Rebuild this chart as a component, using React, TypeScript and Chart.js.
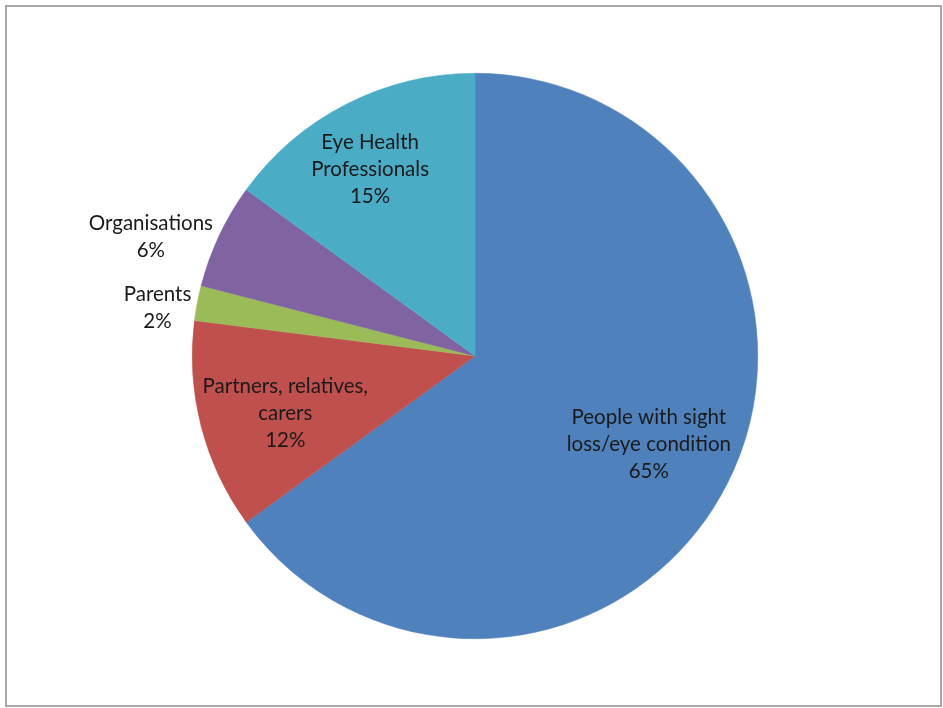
import React, { useEffect, useRef } from "react";
import { Chart, registerables } from "chart.js";

Chart.register(...registerables);

const categories = [
  "People with sight loss/eye condition",
  "Partners, relatives, carers",
  "Parents",
  "Organisations",
  "Eye Health Professionals",
];
const labelLines = [
  ["People with sight", "loss/eye condition", "65%"],
  ["Partners, relatives,", "carers", "12%"],
  ["Parents", "2%"],
  ["Organisations", "6%"],
  ["Eye Health", "Professionals", "15%"],
];
const values = [65, 12, 2, 6, 15];
const colors = ["#4F81BD", "#C0504D", "#9BBB59", "#8064A2", "#4BACC6"];

// label placement: radial factor of outer radius + pixel nudge
const labelPlace = [
  { f: 0.69, dx: 0, dy: 0 },
  { f: 0.7, dx: 2, dy: 8 },
  { f: 1.136, dx: -2, dy: 12 },
  { f: 1.22, dx: -12, dy: 28 },
  { f: 0.755, dx: -8, dy: 4 },
];

const FONT = "20.5px Lato, 'Open Sans', sans-serif";
const LINE_H = 27;

const labelPlugin = {
  id: "sliceLabels",
  afterDatasetsDraw(chart: any) {
    const ctx = chart.ctx;
    const meta = chart.getDatasetMeta(0);
    ctx.save();
    ctx.font = FONT;
    ctx.fillStyle = "#1a1a1a";
    ctx.textAlign = "center";
    ctx.textBaseline = "middle";
    meta.data.forEach((arc: any, i: number) => {
      const { x, y, startAngle, endAngle, outerRadius } = arc.getProps(
        ["x", "y", "startAngle", "endAngle", "outerRadius"],
        true
      );
      const mid = (startAngle + endAngle) / 2;
      const p = labelPlace[i];
      const cx = x + Math.cos(mid) * outerRadius * p.f + p.dx;
      const cy = y + Math.sin(mid) * outerRadius * p.f + p.dy;
      const lines = labelLines[i];
      const top = cy - ((lines.length - 1) * LINE_H) / 2;
      lines.forEach((t, k) => ctx.fillText(t, cx, top + k * LINE_H));
    });
    ctx.restore();
  },
};

const framePlugin = {
  id: "frame",
  beforeDraw(chart: any) {
    const ctx = chart.ctx;
    ctx.save();
    ctx.fillStyle = "#ffffff";
    ctx.fillRect(0, 0, chart.width, chart.height);
    ctx.strokeStyle = "#a8a8a8";
    ctx.lineWidth = 2;
    ctx.strokeRect(6, 6, 935, 700);
    ctx.restore();
  },
};

export default function App() {
  const ref = useRef<HTMLCanvasElement>(null);
  useEffect(() => {
    if (!ref.current) return;
    const chart = new Chart(ref.current, {
      type: "pie",
      data: {
        labels: categories,
        datasets: [
          {
            data: values,
            backgroundColor: colors,
            borderColor: colors,
            borderWidth: 0.5,
          },
        ],
      },
      options: {
        animation: false,
        responsive: false,
        layout: { padding: { top: 73, bottom: 69, left: 192, right: 185 } },
        plugins: {
          legend: { display: false },
          tooltip: { enabled: false },
        },
      },
      plugins: [framePlugin, labelPlugin],
    });
    return () => chart.destroy();
  }, []);
  return (
    <div style={{ position: "absolute", left: 0, top: 0, width: 943, height: 708 }}>
      <canvas ref={ref} width={943} height={708} style={{ display: "block" }} />
    </div>
  );
}
